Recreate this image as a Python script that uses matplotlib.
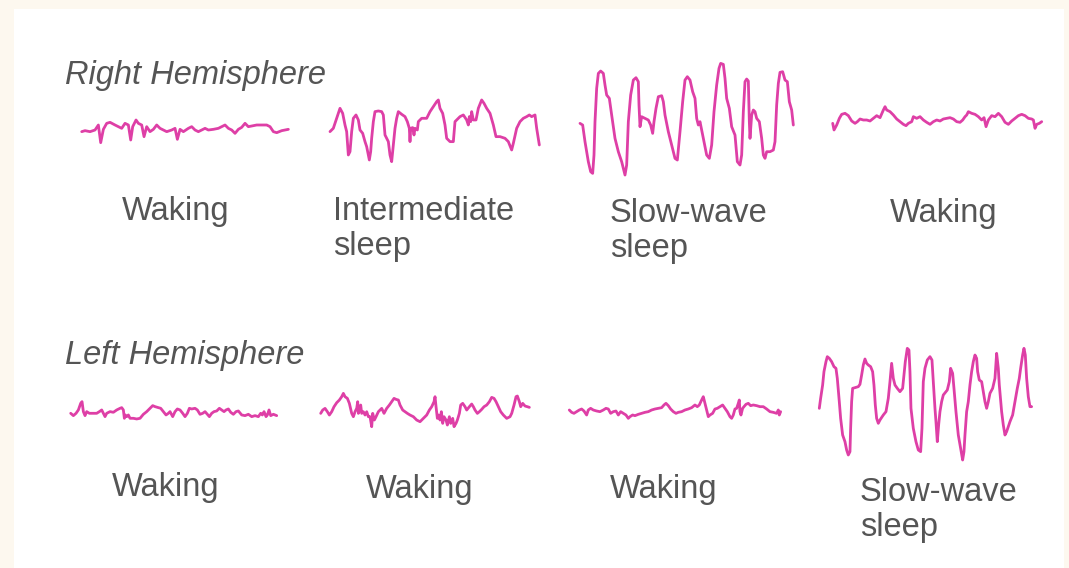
import matplotlib
matplotlib.use("Agg")
import matplotlib.pyplot as plt
from matplotlib.patches import Rectangle

# ---------------- data (time units, amplitude units; 3 units = 1 px) ----------------
r_wake1_t = [65, 75, 90, 105, 115, 122, 130, 140, 150, 165, 175, 185, 195, 205, 212, 218, 228, 235, 245, 252,
             260, 270, 280, 290, 300, 310, 320, 335, 345, 352, 360, 370, 385, 395, 405, 415, 425, 435, 445, 460,
             475, 485, 495, 505, 515, 525, 535, 545, 555, 565, 575, 590, 605, 620, 630, 640, 650, 665, 685]
r_wake1_v = [-5, -2, -5, 0, 15, -38, 2, 20, 23, 15, 10, 5, 20, 15, -30, 10, 30, 20, 15, -20,
             10, -5, 2, 15, 5, 0, -5, 0, 5, -28, 2, -5, 5, 10, 0, -5, 0, 5, 0, 2,
             5, 10, 15, 5, 0, -10, 2, 8, 20, 10, 12, 15, 15, 15, 10, -5, -8, -2, 2]

r_inter_t = [30, 40, 50, 60, 68, 75, 80, 85, 90, 95, 100, 108, 115, 120, 128, 135, 140, 148, 152, 155,
             160, 165, 175, 185, 190, 195, 205, 210, 215, 218, 225, 230, 235, 245, 255, 262, 268, 270, 272, 278,
             282, 285, 292, 295, 305, 320, 330, 340, 350, 355, 360, 368, 375, 380, 390, 400, 405, 410, 420, 430,
             440, 445, 448, 452, 455, 460, 468, 475, 485, 492, 500, 510, 520, 528, 540, 555, 565, 575, 580, 590,
             600, 610, 620, 628, 635, 645, 650, 658]
r_inter_v = [-10, 0, 30, 60, 45, 10, -10, -80, -70, -10, 30, 40, 25, -5, -15, -40, -55, -95, -70, -30,
             20, 50, 52, 50, 40, -20, -40, -80, -100, -70, 0, 30, 50, 42, 35, 20, 0, -40, 0, 2,
             -20, 0, -5, 20, 30, 30, 50, 65, 80, 85, 60, 45, 10, -30, -40, -40, 20, 25, 35, 40,
             25, 10, 35, 20, 50, 25, 25, 60, 85, 75, 60, 45, 10, -25, -25, -30, -40, -65, -45, 0,
             20, 30, 35, 40, 35, 40, 0, -50]

r_slow_t = [30, 38, 45, 55, 62, 68, 72, 75, 80, 85, 92, 100, 105, 110, 118, 125, 135, 145, 155, 165,
            170, 175, 182, 190, 198, 205, 207, 210, 215, 225, 235, 242, 248, 252, 258, 265, 275, 280, 285, 295,
            305, 315, 322, 330, 338, 345, 352, 360, 368, 375, 380, 385, 390, 400, 410, 418, 425, 432, 440, 447,
            452, 460, 465, 470, 478, 485, 495, 502, 510, 515, 520, 525, 530, 535, 538, 540, 545, 550, 555, 560,
            568, 575, 580, 585, 590, 600, 610, 615, 620, 625, 630, 638, 645, 652, 658, 665, 670]
r_slow_v = [-5, -10, -60, -120, -150, -155, -100, 0, 100, 145, 152, 145, 110, 80, 70, 20, -50, -90, -120, -160,
            -130, 0, 80, 125, 132, 120, 50, -15, 15, 10, 5, -10, -35, 0, 40, 75, 78, 60, 20, -30,
            -70, -110, -115, -30, 60, 125, 135, 125, 90, 70, 10, -10, 0, -50, -100, -110, -70, 30, 110, 160,
            175, 172, 130, 70, 40, -15, -40, -120, -130, -100, 30, 120, 128, 122, 0, -50, 20, 35, 30, 10,
            0, -50, -100, -110, -90, -90, -85, -60, 50, 115, 148, 150, 125, 120, 60, 35, -10]

r_wake2_t = [38, 42, 50, 58, 65, 75, 85, 95, 105, 112, 120, 130, 140, 150, 160, 170, 180, 190, 195, 200,
             210, 220, 230, 240, 250, 258, 265, 275, 280, 290, 300, 310, 320, 330, 340, 350, 360, 370, 380, 390,
             400, 410, 420, 428, 435, 440, 445, 455, 465, 475, 485, 492, 498, 505, 515, 525, 535, 545, 555, 565,
             575, 585, 595, 605, 615, 625, 635, 640, 645, 650, 658, 665]
r_wake2_v = [-10, -30, -15, 5, 17, 20, 13, -3, -10, -5, 3, 0, 0, -3, 5, 13, 7, 30, 40, 30,
             25, 15, 3, -5, -13, -17, -10, -5, 10, 5, 10, 0, -7, -13, -5, 0, -3, 3, 5, 7,
             3, -5, -7, 0, 10, 15, 25, 20, 17, 10, 0, 7, -20, 0, 13, 10, 20, 10, -7, -13,
             -3, 5, 13, 17, 13, 5, 3, 0, -25, -13, -10, -5]

l_wake1_t = [32, 40, 48, 55, 62, 66, 70, 75, 80, 88, 100, 110, 118, 125, 130, 135, 140, 150, 160, 170,
             180, 185, 190, 193, 196, 200, 205, 210, 220, 230, 240, 250, 260, 270, 278, 285, 295, 302, 310, 318,
             325, 330, 338, 345, 352, 360, 368, 375, 382, 388, 395, 405, 412, 420, 428, 435, 442, 448, 455, 462,
             470, 478, 485, 492, 498, 505, 512, 520, 528, 535, 545, 555, 565, 575, 585, 595, 602, 607, 612, 618,
             622, 627, 632, 640, 650]
l_wake1_v = [0, -7, 0, 10, 30, 35, 5, -7, 5, 0, 0, 0, 5, 10, 0, -10, 0, 5, 3, 10,
             15, 17, 10, -15, -5, -10, -5, -15, -15, -17, -15, -3, 5, 15, 23, 20, 17, 15, 5, -5,
             0, 5, -10, 5, 13, 10, 0, -10, 0, 15, 13, 15, 10, -3, 0, 5, -3, -10, 0, 5,
             7, 15, 10, 5, 10, 13, 3, -3, 5, 7, -5, -7, -3, -10, -7, -10, 0, -5, 5, -10,
             -5, 10, -7, -3, -7]

l_wake2_t = [32, 38, 45, 52, 58, 65, 72, 80, 88, 95, 100, 105, 112, 118, 125, 130, 135, 140, 143, 145,
             148, 152, 155, 160, 165, 170, 175, 180, 185, 188, 193, 198, 205, 210, 215, 222, 230, 238, 245, 252,
             258, 265, 270, 278, 285, 292, 300, 310, 320, 330, 340, 350, 358, 365, 372, 375, 378, 382, 386, 390,
             394, 398, 402, 408, 412, 418, 422, 428, 432, 438, 442, 448, 452, 458, 465, 470, 478, 485, 490, 495,
             502, 508, 515, 522, 530, 538, 545, 552, 558, 565, 572, 580, 590, 600, 605, 612, 618, 622, 628, 632,
             638, 645, 652, 658]
l_wake2_v = [-5, 5, 10, 0, -10, 0, 15, 27, 35, 45, 55, 45, 40, 25, -5, -15, 0, 10, 30, -5,
             5, 20, -5, 0, -10, 0, -15, -15, -45, -5, -25, -15, 0, 5, 10, -5, 10, 20, 30, 40,
             37, 35, 20, 5, 0, -5, -10, -15, -25, -30, -20, -10, 5, 15, 30, 45, 15, -20, -10, -25,
             0, -35, -15, -25, -40, -15, -35, -20, -45, -35, -25, -5, 20, 25, 15, 5, 15, 23, 15, 5,
             -5, 0, 7, 15, 20, 30, 43, 40, 30, 15, 0, -10, -20, -15, -5, 20, 45, 47, 30, 15,
             25, 17, 15, 13]

l_wake3_t = [28, 35, 42, 50, 58, 65, 72, 80, 85, 92, 100, 110, 120, 130, 138, 145, 152, 160, 168, 175,
             182, 190, 198, 205, 210, 218, 225, 235, 245, 255, 265, 275, 285, 295, 305, 312, 318, 325, 332, 340,
             348, 355, 365, 375, 385, 395, 405, 412, 418, 425, 430, 435, 440, 445, 450, 458, 465, 472, 480, 488,
             495, 502, 510, 515, 520, 525, 530, 535, 538, 540, 543, 548, 552, 558, 565, 572, 580, 590, 600, 610,
             620, 630, 640, 650, 655, 658, 662]
l_wake3_v = [3, -4, -7, -2, 3, 6, 0, -12, 3, 8, 3, 0, -2, 3, 8, 6, -7, -2, 0, -12,
             -2, -7, -12, -22, -17, -12, -14, -10, -7, -4, -2, 3, 6, 8, 10, 18, 23, 16, 6, -2,
             -7, -4, -2, 3, 6, 10, 18, 13, 18, 33, 43, 23, 3, -17, -12, -7, 6, 8, 13, 18,
             8, -2, -17, -22, -12, 6, 8, 23, 33, -2, -12, 8, 13, 20, 23, 16, 18, 16, 13, 13,
             6, -2, -4, -7, 3, -12, -2]

l_slow_t = [28, 32, 38, 42, 48, 52, 58, 65, 72, 78, 82, 88, 92, 98, 105, 110, 115, 120, 122, 125,
            128, 135, 145, 150, 155, 160, 165, 170, 175, 182, 188, 192, 196, 200, 205, 210, 220, 228, 235, 240,
            245, 250, 255, 262, 270, 278, 282, 286, 292, 297, 300, 303, 310, 318, 325, 332, 336, 340, 345, 352,
            360, 366, 370, 375, 378, 382, 386, 390, 395, 400, 408, 412, 418, 422, 428, 432, 438, 445, 452, 458,
            462, 465, 470, 475, 480, 485, 490, 495, 500, 503, 508, 515, 520, 525, 530, 535, 540, 548, 555, 560,
            565, 568, 575, 580, 585, 590, 595, 600, 608, 615, 622, 628, 632, 638, 642, 646, 650, 655, 660, 665]
l_slow_v = [-40, -10, 30, 70, 100, 115, 110, 100, 85, 80, 50, -20, -70, -120, -140, -165, -180, -170, -100, -20,
            20, 22, 25, 32, 60, 90, 108, 95, 90, 85, 70, 30, -30, -70, -85, -75, -60, -50, -10, 40,
            95, 50, 30, 20, 10, 20, 60, 100, 140, 135, 70, -40, -100, -140, -165, -170, -100, 40, 80, 105,
            115, 105, 40, -40, -80, -140, -90, -50, -20, 0, 10, 15, 40, 80, 65, 20, -50, -120, -160, -195,
            -170, -120, -50, -20, 30, 70, 100, 120, 110, 70, 45, 40, 10, -20, -40, -20, 5, 20, 50, 125,
            80, 30, -50, -90, -120, -110, -95, -80, -60, -20, 20, 50, 80, 120, 140, 120, 50, -5, -35, -35]

traces = [(r_wake1_t, r_wake1_v), (r_inter_t, r_inter_v), (r_slow_t, r_slow_v), (r_wake2_t, r_wake2_v),
          (l_wake1_t, l_wake1_v), (l_wake2_t, l_wake2_v), (l_wake3_t, l_wake3_v), (l_slow_t, l_slow_v)]

# ---------------- layout (image pixels) ----------------
W, H = 1069, 568
trace_layout = [  # (x_left, baseline_y)
    (81.7, 130.0), (330.0, 128.3), (580.0, 121.7), (832.7, 120.0),
    (70.7, 413.3), (320.7, 411.7), (569.3, 411.0), (819.3, 395.0),
]
UNITS_PER_PX = 3.0
BOX_H = 140

labels = [
    ("Right Hemisphere", 65, 84, "italic"),
    ("Waking", 122, 220, "normal"),
    ("Intermediate", 333, 220, "normal"),
    ("sleep", 333, 255, "normal"),
    ("Slow-wave", 610, 222, "normal"),
    ("sleep", 610, 257, "normal"),
    ("Waking", 890, 222, "normal"),
    ("Left Hemisphere", 65, 364, "italic"),
    ("Waking", 112, 496, "normal"),
    ("Waking", 366, 498, "normal"),
    ("Waking", 610, 498, "normal"),
    ("Slow-wave", 860, 501, "normal"),
    ("sleep", 860, 536, "normal"),
]

LINE_COLOR = "#de3fa6"
TEXT_COLOR = "#555555"
BG = "#fdf8ef"

fig = plt.figure(figsize=(W / 100, H / 100), dpi=100, facecolor=BG)
base = fig.add_axes([0, 0, 1, 1])
base.set_xlim(0, W)
base.set_ylim(H, 0)
base.axis("off")
base.add_patch(Rectangle((14, 9), 1050, H - 9, facecolor="white", edgecolor="none"))

for text, x, y, style in labels:
    base.text(x, y, text, fontsize=23.5, fontstyle=style, color=TEXT_COLOR,
              family=["Liberation Sans", "DejaVu Sans"], ha="left", va="baseline")

for (t, v), (xl, by) in zip(traces, trace_layout):
    width_px = (t[-1] - t[0]) / UNITS_PER_PX
    ax = fig.add_axes([xl / W, (H - (by + BOX_H / 2)) / H, width_px / W, BOX_H / H])
    ax.set_xlim(t[0], t[-1])
    half = BOX_H / 2 * UNITS_PER_PX
    ax.set_ylim(-half, half)
    ax.axis("off")
    ax.patch.set_alpha(0)
    ax.plot(t, v, color=LINE_COLOR, lw=2.0, solid_joinstyle="round", solid_capstyle="round", clip_on=False)

fig.savefig("out.png", dpi=100, facecolor=BG)
